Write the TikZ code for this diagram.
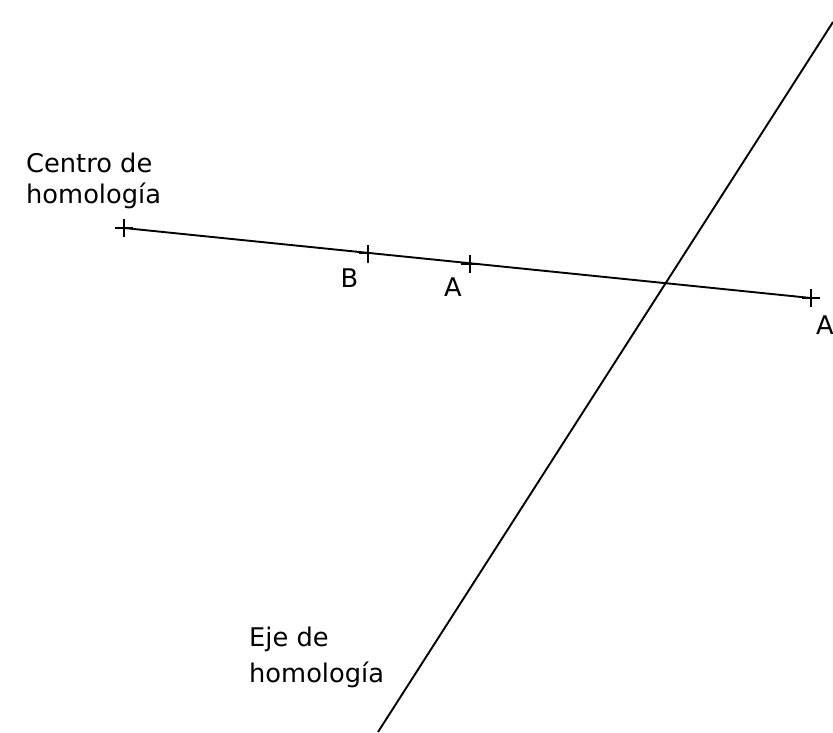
\documentclass[tikz,border=0pt]{standalone}
\usepackage{fontspec}
\setmainfont{DejaVu Sans}
\tikzset{
  lbl/.style={inner sep=0pt,anchor=base west,font=\fontsize{25.7}{30}\selectfont,align=left},
  ln/.style={line width=1.9pt,black},
  tick/.style={line width=1.6pt,black}
}
\begin{document}
\begin{tikzpicture}[x=1pt,y=-1pt]
\useasboundingbox (0,0) rectangle (833,732);
\coordinate (C) at (124,228);
\coordinate (Ap) at (811,298);
\coordinate (B) at (368,253.5);
\coordinate (A) at (470,264);
\coordinate (e1) at (833,22);
\coordinate (e2) at (378,732);
\draw[ln] (C) -- (Ap);
\draw[ln] (e1) -- (e2);
\foreach \p in {C,Ap,B,A}{
  \draw[tick] ([xshift=-9pt]\p) -- ([xshift=9pt]\p);
  \draw[tick] ([yshift=-9pt]\p) -- ([yshift=9pt]\p);
}
\node[lbl] (t1) at (26,172) {Centro de};
\node[lbl] (t2) at (26,203) {homología};
\node[lbl] (t3) at (340.5,287) {B};
\node[lbl] (t4) at (444,296) {A};
\node[lbl] (t5) at (816,334) {A};
\node[lbl] (t6) at (249,646) {Eje de};
\node[lbl] (t7) at (249,682) {homología};
\end{tikzpicture}
\end{document}
